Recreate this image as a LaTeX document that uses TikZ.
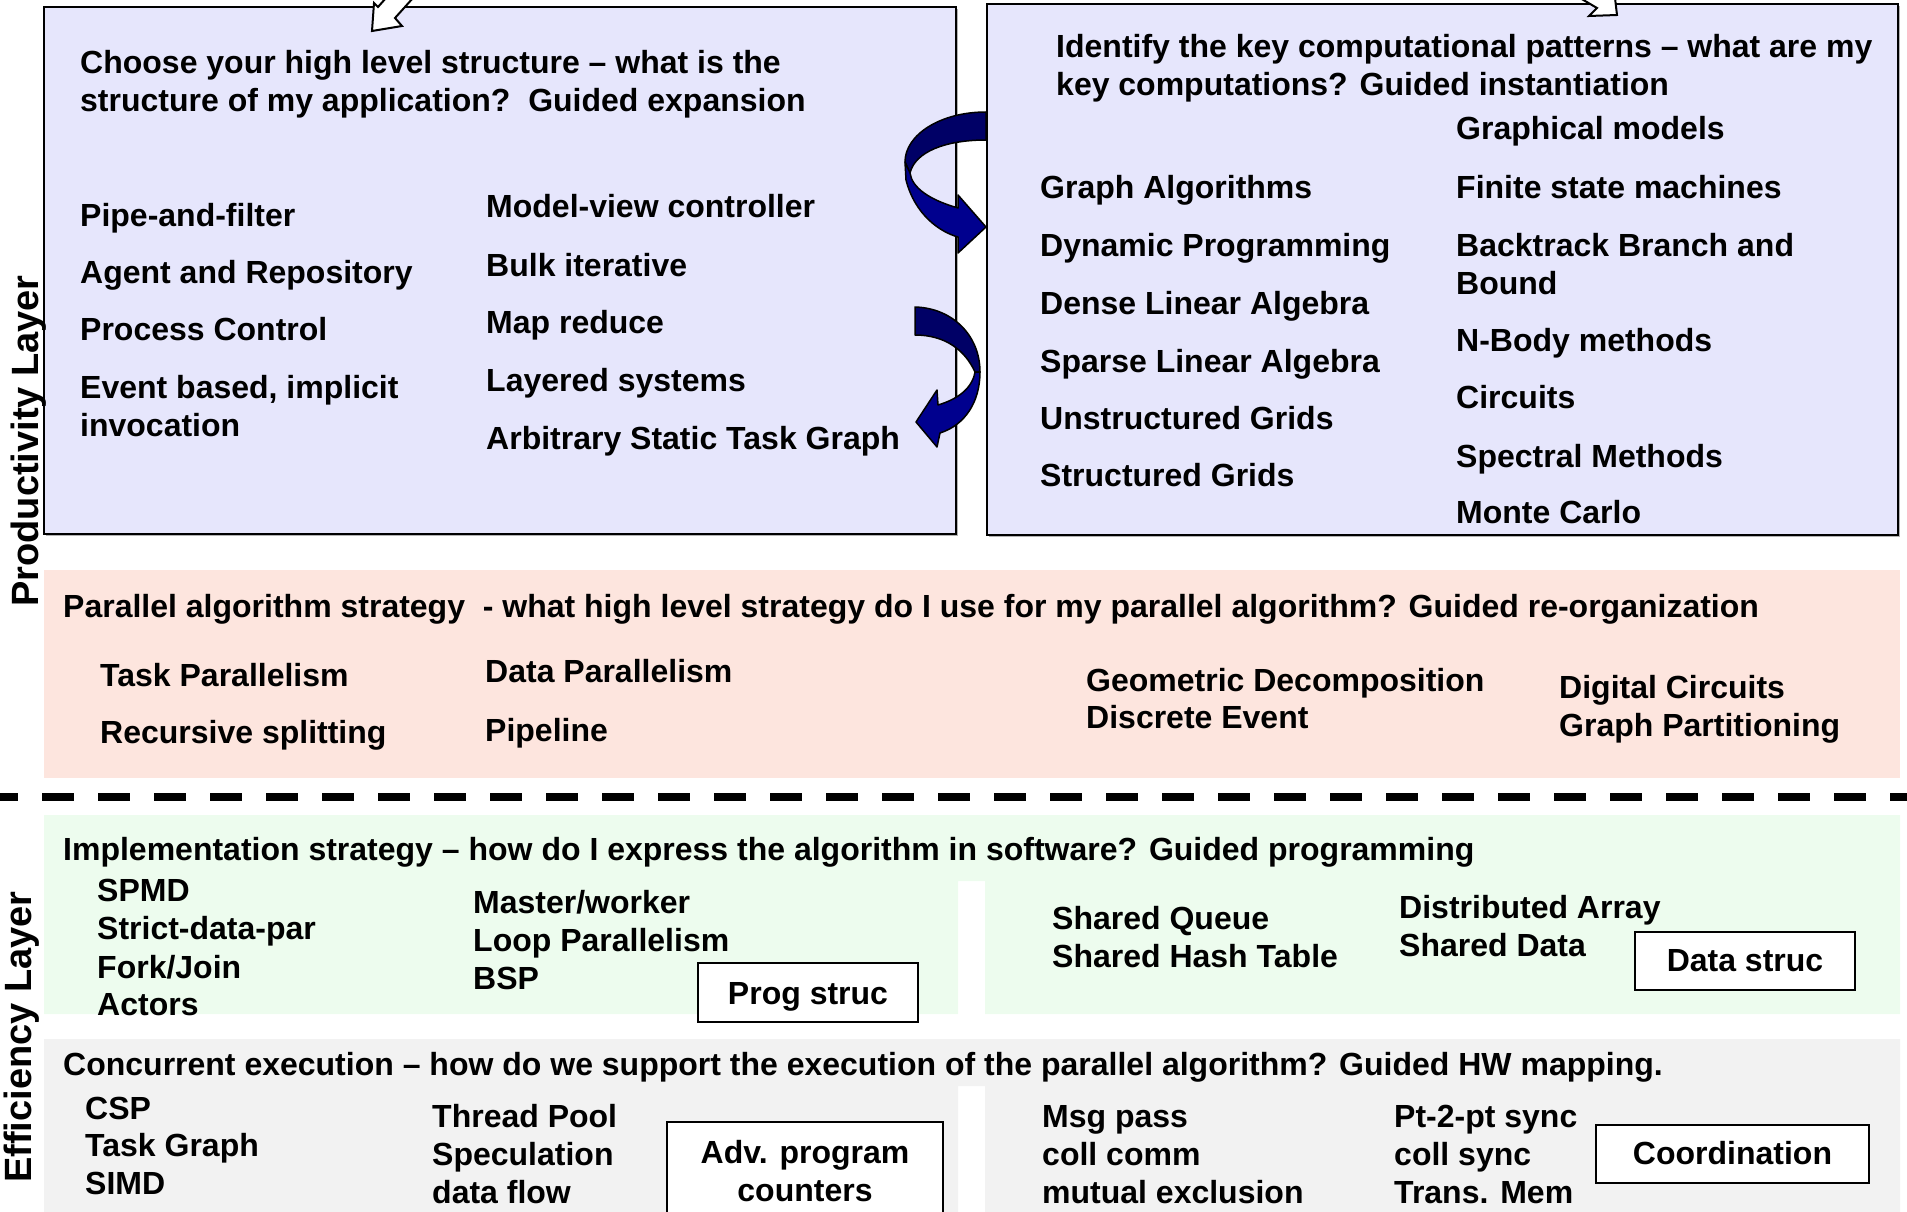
\documentclass[tikz,border=0pt]{standalone}
\usepackage{fontspec}
\setmainfont{Liberation Sans}
\newcommand\itemfont{\fontsize{32}{38}\selectfont\bfseries}
\newcommand\layerfont{\fontsize{38}{44}\selectfont\bfseries}
\definecolor{lavender}{RGB}{230,230,252}
\definecolor{peach}{RGB}{253,229,222}
\definecolor{mint}{RGB}{237,252,238}
\definecolor{pale}{RGB}{242,242,242}
\definecolor{navyA}{RGB}{0,0,102}
\definecolor{navyB}{RGB}{0,0,142}
\begin{document}
\begin{tikzpicture}[x=1pt,y=-1pt,
  txt/.style={anchor=base west,inner sep=0pt,font=\itemfont},
  panel/.style={draw=black,line width=2.5pt,fill=lavender},
  shadow/.style={fill=black!30},
  tag/.style={draw=black,line width=2pt,fill=white,inner sep=0pt,font=\itemfont,align=center},
  ribbon/.style={draw=black,line width=1.5pt,line join=round},
  blockarrow/.style={draw=black,line width=2pt,fill=white,line join=miter},
  layer/.style={rotate=90,inner sep=0pt,font=\layerfont}]
\useasboundingbox (0,0) rectangle (1907,1212);

% ---- top panels ----
\fill[shadow] (46,9) rectangle (958,536);
\draw[panel] (44,7) rectangle (956,534);
\fill[shadow] (989,6) rectangle (1900,537);
\draw[panel] (987,4) rectangle (1898,535);

% incoming block arrows at the top edge
\draw[blockarrow] (386,-2) -- (378,7) -- (374,3) -- (372,31) -- (402,26) -- (395,18) -- (413,-2);
\draw[blockarrow] (1580,-2) -- (1597,8) -- (1589,16) -- (1617,15) -- (1615,-2);

% ---- bands ----
\fill[peach] (44,570) rectangle (1900,778);
\fill[mint] (44,815) -- (1900,815) -- (1900,1014) -- (985,1014) -- (985,881)
  -- (958,881) -- (958,1014) -- (44,1014) -- cycle;
\fill[pale] (44,1039) -- (1900,1039) -- (1900,1230) -- (985,1230) -- (985,1086)
  -- (958,1086) -- (958,1230) -- (44,1230) -- cycle;

% divider between the two layers
\draw[line width=8pt,dash pattern=on 32pt off 24pt,dash phase=14pt] (0,797) -- (1907,797);

% ---- curved ribbon arrows ----
\filldraw[ribbon,fill=navyA] (986,112) .. controls (940,112) and (905,135) .. (905,162)
  -- (910,173) .. controls (915,152) and (945,140) .. (986,140) -- cycle;
\filldraw[ribbon,fill=navyB] (905,162) -- (906,180) .. controls (915,215) and (940,232) .. (958,237)
  -- (958,253) -- (986,227) -- (958,195) -- (958,208)
  .. controls (930,200) and (912,188) .. (910,173) -- cycle;
\filldraw[ribbon,fill=navyA] (915,307) .. controls (952,308) and (980,335) .. (980,372)
  -- (975,372) .. controls (965,350) and (945,335) .. (915,335) -- cycle;
\filldraw[ribbon,fill=navyB] (980,372) .. controls (980,402) and (965,425) .. (940,433)
  -- (937,447) -- (916,422) -- (937,390) -- (938,405)
  .. controls (955,400) and (972,390) .. (975,372) -- cycle;

% ---- structural patterns ----
\node[txt] (s1) at (80,74) {Choose your high level structure -- what is the};
\node[txt] (s2) at (80,112) {structure of my application?~~Guided expansion};
\node[txt] (pf) at (80,226) {Pipe-and-filter};
\node[txt] (ar) at (80,283) {Agent and Repository};
\node[txt] (pc) at (80,340) {Process Control};
\node[txt] (eb) at (80,398) {Event based, implicit};
\node[txt] (iv) at (80,436) {invocation};
\node[txt] (mv) at (486,218) {Model-view controller};
\node[txt] (bi) at (486,276) {Bulk iterative};
\node[txt] (mr) at (486,333) {Map reduce};
\node[txt] (ls) at (486,391) {Layered systems};
\node[txt] (at) at (486,449) {Arbitrary Static Task Graph};

% ---- computational patterns ----
\node[txt] (c1) at (1056,58) {Identify the key computational patterns -- what are my};
\node[txt] (c2) at (1056,96) {key computations? Guided instantiation};
\node[txt] (ga) at (1040,198) {Graph Algorithms};
\node[txt] (dp) at (1040,256) {Dynamic Programming};
\node[txt] (dl) at (1040,314) {Dense Linear Algebra};
\node[txt] (sl) at (1040,372) {Sparse Linear Algebra};
\node[txt] (ug) at (1040,429) {Unstructured Grids};
\node[txt] (sg) at (1040,486) {Structured Grids};
\node[txt] (gm) at (1456,140) {Graphical models};
\node[txt] (fs) at (1456,198) {Finite state machines};
\node[txt] (bb) at (1456,256) {Backtrack Branch and};
\node[txt] (bd) at (1456,294) {Bound};
\node[txt] (nb) at (1456,351) {N-Body methods};
\node[txt] (ci) at (1456,408) {Circuits};
\node[txt] (sm) at (1456,467) {Spectral Methods};
\node[txt] (mc) at (1456,523) {Monte Carlo};

% ---- parallel algorithm strategy ----
\node[txt] (pa) at (63,617) {Parallel algorithm strategy~~- what high level strategy do I use for my parallel algorithm? Guided re-organization};
\node[txt] (tp) at (100,686) {Task Parallelism};
\node[txt] (rs) at (100,743) {Recursive splitting};
\node[txt] (dpar) at (485,682) {Data Parallelism};
\node[txt] (pl) at (485,741) {Pipeline};
\node[txt] (gd) at (1086,691) {Geometric Decomposition};
\node[txt] (de) at (1086,728) {Discrete Event};
\node[txt] (dc) at (1559,698) {Digital Circuits};
\node[txt] (gp) at (1559,736) {Graph Partitioning};

% ---- implementation strategy ----
\node[txt] (is) at (63,860) {Implementation strategy -- how do I express the algorithm in software? Guided programming};
\node[txt] (spmd) at (97,901) {SPMD};
\node[txt] (sdp) at (97,939) {Strict-data-par};
\node[txt] (fj) at (97,978) {Fork/Join};
\node[txt] (ac) at (97,1015) {Actors};
\node[txt] (mw) at (473,913) {Master/worker};
\node[txt] (lp) at (473,951) {Loop Parallelism};
\node[txt] (bsp) at (473,989) {BSP};
\node[txt] (sq) at (1052,929) {Shared Queue};
\node[txt] (sh) at (1052,967) {Shared Hash Table};
\node[txt] (da) at (1399,918) {Distributed Array};
\node[txt] (sd) at (1399,956) {Shared Data};
\node[tag,minimum width=220pt,minimum height=59pt,text height=30pt,text depth=6.7pt] (prog) at (808,992.5) {Prog struc};
\node[tag,minimum width=220pt,minimum height=58pt] (data) at (1745,961) {Data struc};

% ---- concurrent execution ----
\node[txt] (ce) at (63,1075) {Concurrent execution -- how do we support the execution of the parallel algorithm? Guided HW mapping.};
\node[txt] (csp) at (85,1119) {CSP};
\node[txt] (tg) at (85,1156) {Task Graph};
\node[txt] (simd) at (85,1194) {SIMD};
\node[txt] (tpool) at (432,1127) {Thread Pool};
\node[txt] (spec) at (432,1165) {Speculation};
\node[txt] (df) at (432,1203) {data flow};
\node[txt] (mp) at (1042,1127) {Msg pass};
\node[txt] (cc) at (1042,1165) {coll comm};
\node[txt] (me) at (1042,1203) {mutual exclusion};
\node[txt] (pt) at (1394,1127) {Pt-2-pt sync};
\node[txt] (cs) at (1394,1165) {coll sync};
\node[txt] (tm) at (1394,1203) {Trans. Mem};
\node[tag,minimum width=276pt,minimum height=98pt] (adv) at (805,1171) {Adv. program\\counters};
\node[tag,minimum width=273pt,minimum height=58pt] (coord) at (1732.5,1153.5) {Coordination};

% ---- layer labels ----
\node[layer] (prod) at (29,441) {Productivity Layer};
\node[layer] (eff) at (22,1037) {Efficiency Layer};
\end{tikzpicture}
\end{document}
